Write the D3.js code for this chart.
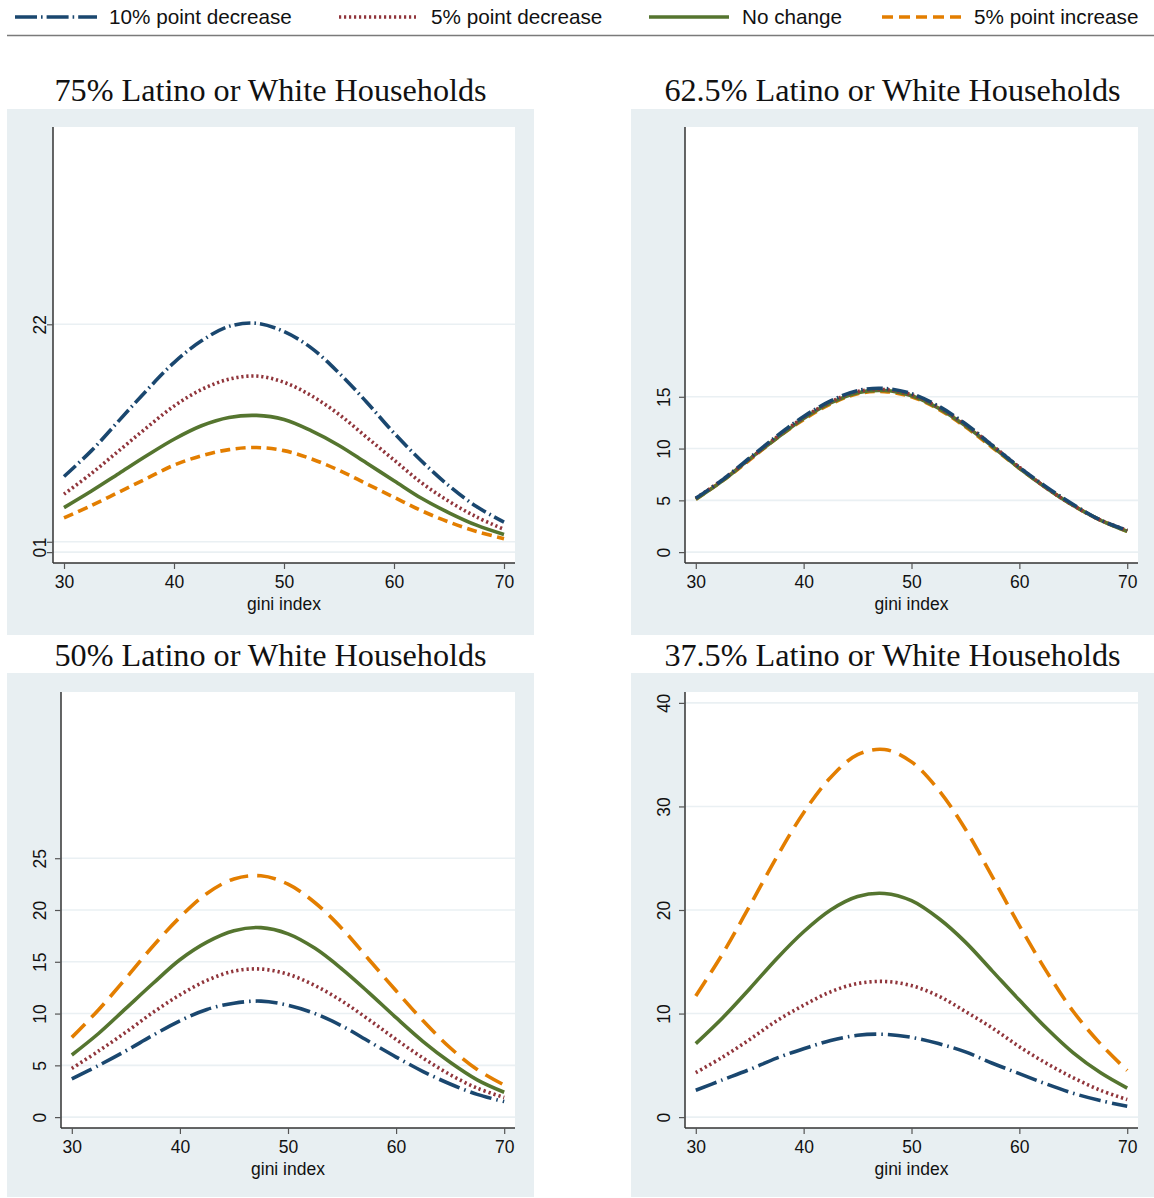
<!DOCTYPE html>
<html>
<head>
<meta charset="utf-8">
<script src="https://cdn.jsdelivr.net/npm/d3@7"></script>
<style>
  html, body { margin: 0; padding: 0; background: #ffffff; }
  svg { display: block; }
</style>
</head>
<body>
<svg id="chart" width="1154" height="1198"></svg>
<script>
// Predicted counts across the gini index, one panel per household composition
const gini = [30, 32.5, 35, 37.5, 40, 42.5, 45, 47.5, 50, 52.5, 55, 57.5, 60, 62.5, 65, 67.5, 70];

const seriesNames = ["10% point decrease", "5% point decrease", "No change", "5% point increase"];
const panelTitles = [
  "75% Latino or White Households",
  "62.5% Latino or White Households",
  "50% Latino or White Households",
  "37.5% Latino or White Households"
];
const yTickValues = [
  [0, 1, 22],
  [0, 5, 10, 15],
  [0, 5, 10, 15, 20, 25],
  [0, 10, 20, 30, 40]
];
const xTickValues = [30, 40, 50, 60, 70];

// 75% Latino or White
const p75Dec10 = [7.3, 9.8, 12.7, 15.6, 18.3, 20.4, 21.8, 22.1, 21.3, 19.7, 17.3, 14.5, 11.5, 8.8, 6.4, 4.4, 2.9];
const p75Dec5  = [5.6, 7.6, 9.8, 12.0, 14.1, 15.7, 16.7, 17.0, 16.4, 15.1, 13.3, 11.1, 8.9, 6.7, 4.9, 3.4, 2.2];
const p75Same  = [4.3, 5.9, 7.6, 9.3, 10.9, 12.2, 13.0, 13.2, 12.8, 11.7, 10.3, 8.6, 6.9, 5.2, 3.8, 2.6, 1.7];
const p75Inc5  = [3.3, 4.5, 5.8, 7.1, 8.4, 9.3, 9.9, 10.1, 9.8, 9.0, 7.9, 6.6, 5.3, 4.0, 2.9, 2.0, 1.3];

// 62.5% Latino or White
const p625Dec10 = [5.2, 7.0, 9.1, 11.2, 13.1, 14.6, 15.6, 15.8, 15.3, 14.1, 12.4, 10.3, 8.2, 6.3, 4.6, 3.1, 2.1];
const p625Dec5  = [5.2, 7.0, 9.0, 11.1, 13.0, 14.5, 15.5, 15.7, 15.2, 14.0, 12.3, 10.3, 8.2, 6.2, 4.5, 3.1, 2.1];
const p625Same  = [5.1, 6.9, 9.0, 11.0, 12.9, 14.4, 15.4, 15.6, 15.1, 13.9, 12.2, 10.2, 8.1, 6.2, 4.5, 3.1, 2.0];
const p625Inc5  = [5.1, 6.9, 8.9, 11.0, 12.8, 14.3, 15.3, 15.5, 15.0, 13.8, 12.1, 10.1, 8.1, 6.2, 4.5, 3.1, 2.0];

// 50% Latino or White
const p50Dec10 = [3.7, 5.0, 6.4, 7.9, 9.3, 10.4, 11.0, 11.2, 10.8, 10.0, 8.8, 7.3, 5.8, 4.4, 3.2, 2.2, 1.5];
const p50Dec5  = [4.7, 6.4, 8.2, 10.1, 11.8, 13.2, 14.1, 14.3, 13.8, 12.7, 11.2, 9.4, 7.5, 5.7, 4.1, 2.8, 1.9];
const p50Same  = [6.0, 8.1, 10.5, 12.9, 15.2, 16.9, 18.0, 18.3, 17.7, 16.3, 14.3, 12.0, 9.6, 7.3, 5.3, 3.6, 2.4];
const p50Inc5  = [7.7, 10.4, 13.4, 16.5, 19.3, 21.6, 23.0, 23.3, 22.5, 20.7, 18.2, 15.2, 12.2, 9.3, 6.7, 4.6, 3.1];

// 37.5% Latino or White
const p375Dec10 = [2.6, 3.6, 4.6, 5.7, 6.6, 7.4, 7.9, 8.0, 7.7, 7.1, 6.3, 5.2, 4.2, 3.2, 2.3, 1.6, 1.05];
const p375Dec5  = [4.3, 5.8, 7.5, 9.3, 10.8, 12.1, 12.9, 13.1, 12.7, 11.7, 10.2, 8.6, 6.8, 5.2, 3.8, 2.6, 1.7];
const p375Same  = [7.1, 9.6, 12.4, 15.3, 17.9, 20.0, 21.3, 21.6, 20.9, 19.2, 16.9, 14.1, 11.3, 8.6, 6.2, 4.3, 2.8];
const p375Inc5  = [11.7, 15.8, 20.4, 25.1, 29.4, 32.8, 35.0, 35.5, 34.3, 31.6, 27.8, 23.2, 18.5, 14.1, 10.2, 7.1, 4.5];

const panelData = [
  [p75Dec10, p75Dec5, p75Same, p75Inc5],
  [p625Dec10, p625Dec5, p625Same, p625Inc5],
  [p50Dec10, p50Dec5, p50Same, p50Inc5],
  [p375Dec10, p375Dec5, p375Same, p375Inc5]
];

// styling
const colors = ["#1a476f", "#90353b", "#55752f", "#e37e00"];
const dashTop    = ["16,4,1.6,4", "2.2,2.8", null, "10,5.5"];
const dashBottom = ["22,5,1.6,5", "2.2,3", null, "19,9"];
const legendDash = ["22,4,1.6,4", "2.2,2.8", null, "11,6"];
const lineWidth = 3.6;

const svg = d3.select("#chart");

// legend
const legendItems = [
  { x0: 15, x1: 97, tx: 109 },
  { x0: 339, x1: 416, tx: 431 },
  { x0: 649, x1: 729, tx: 742 },
  { x0: 882, x1: 962, tx: 974 }
];
const legendY = 17;
const lg = svg.append("g").attr("class", "legend");
legendItems.forEach((it, i) => {
  lg.append("line")
    .attr("x1", it.x0).attr("x2", it.x1)
    .attr("y1", legendY).attr("y2", legendY)
    .attr("stroke", colors[i])
    .attr("stroke-width", lineWidth)
    .attr("stroke-dasharray", legendDash[i]);
  lg.append("text")
    .attr("x", it.tx).attr("y", legendY)
    .attr("dy", "0.36em")
    .attr("font-family", "'Liberation Sans', Arial, sans-serif")
    .attr("font-size", 20.7)
    .attr("fill", "#111")
    .text(seriesNames[i]);
});
lg.append("line")
  .attr("x1", 7).attr("x2", 1154)
  .attr("y1", 35.5).attr("y2", 35.5)
  .attr("stroke", "#7a7a7a")
  .attr("stroke-width", 1.6);

// panel frames: background box and inner plot area
const panels = [
  { bx0: 7,   bx1: 534,  by0: 109, by1: 635,  px0: 53,  px1: 515,  py0: 127, py1: 563,  titleY: 101, top: true },
  { bx0: 631, bx1: 1154, by0: 109, by1: 635,  px0: 685, px1: 1138, py0: 127, py1: 563,  titleY: 101, top: true },
  { bx0: 7,   bx1: 534,  by0: 673, by1: 1197, px0: 61,  px1: 515,  py0: 692, py1: 1128, titleY: 666, top: false },
  { bx0: 631, bx1: 1154, by0: 673, by1: 1197, px0: 685, px1: 1138, py0: 692, py1: 1128, titleY: 666, top: false }
];

const sansFont = "'Liberation Sans', Arial, sans-serif";

panels.forEach((p, pi) => {
  const g = svg.append("g").attr("class", "panel");

  g.append("text")
    .attr("x", (p.bx0 + p.bx1) / 2)
    .attr("y", p.titleY)
    .attr("text-anchor", "middle")
    .attr("font-family", "'Liberation Serif', 'Times New Roman', serif")
    .attr("font-size", 32.2)
    .attr("fill", "#111")
    .text(panelTitles[pi]);

  g.append("rect")
    .attr("x", p.bx0).attr("y", p.by0)
    .attr("width", p.bx1 - p.bx0).attr("height", p.by1 - p.by0)
    .attr("fill", "#e8eff2");

  g.append("rect")
    .attr("x", p.px0).attr("y", p.py0)
    .attr("width", p.px1 - p.px0).attr("height", p.py1 - p.py0)
    .attr("fill", "#ffffff");

  const x = d3.scaleLinear().domain([29, 71]).range([p.px0, p.px1]);
  const y = d3.scaleLinear().domain([-1.05, 41.05]).range([p.py1, p.py0]);

  // horizontal grid
  g.append("g")
    .selectAll("line")
    .data(yTickValues[pi])
    .join("line")
    .attr("x1", p.px0).attr("x2", p.px1)
    .attr("y1", d => y(d)).attr("y2", d => y(d))
    .attr("stroke", "#eaf0f3")
    .attr("stroke-width", 1.6);

  // curves
  const line = d3.line()
    .x((d, i) => x(gini[i]))
    .y(d => y(d))
    .curve(d3.curveCatmullRom.alpha(0.5));
  const dashes = p.top ? dashTop : dashBottom;
  // increase drawn first so the decrease curves sit on top
  [3, 2, 1, 0].forEach(si => {
    g.append("path")
      .datum(panelData[pi][si])
      .attr("d", line)
      .attr("fill", "none")
      .attr("stroke", colors[si])
      .attr("stroke-width", lineWidth)
      .attr("stroke-dasharray", dashes[si]);
  });

  // x axis
  const xAxis = d3.axisBottom(x).tickValues(xTickValues).tickSize(6).tickPadding(7);
  const xg = g.append("g").attr("transform", `translate(0,${p.py1})`).call(xAxis);
  xg.select(".domain").attr("d", `M${p.px0},0H${p.px1}`).attr("stroke", "#333").attr("stroke-width", 1.5);
  xg.selectAll(".tick line").attr("stroke", "#555").attr("stroke-width", 1.2);
  xg.selectAll(".tick text")
    .attr("font-family", sansFont).attr("font-size", 17.5).attr("fill", "#111");

  g.append("text")
    .attr("x", x(50))
    .attr("y", p.py1 + 47)
    .attr("text-anchor", "middle")
    .attr("font-family", sansFont)
    .attr("font-size", 17.5)
    .attr("fill", "#111")
    .text("gini index");

  // y axis
  const yAxis = d3.axisLeft(y).tickValues(yTickValues[pi]).tickSize(6).tickPadding(4).tickFormat(d3.format("d"));
  const yg = g.append("g").attr("transform", `translate(${p.px0},0)`).call(yAxis);
  yg.select(".domain").attr("d", `M0,${p.py1}V${p.py0}`).attr("stroke", "#333").attr("stroke-width", 1.5);
  yg.selectAll(".tick line").attr("stroke", "#555").attr("stroke-width", 1.2);
  yg.selectAll(".tick text")
    .attr("font-family", sansFont).attr("font-size", 17.5).attr("fill", "#111")
    .attr("text-anchor", "middle")
    .attr("x", null).attr("dy", null)
    .attr("transform", `translate(${p.bx0 === 7 ? 40 - p.px0 : 664 - p.px0},0) rotate(-90)`)
    .attr("dominant-baseline", "central");
});
</script>
</body>
</html>
